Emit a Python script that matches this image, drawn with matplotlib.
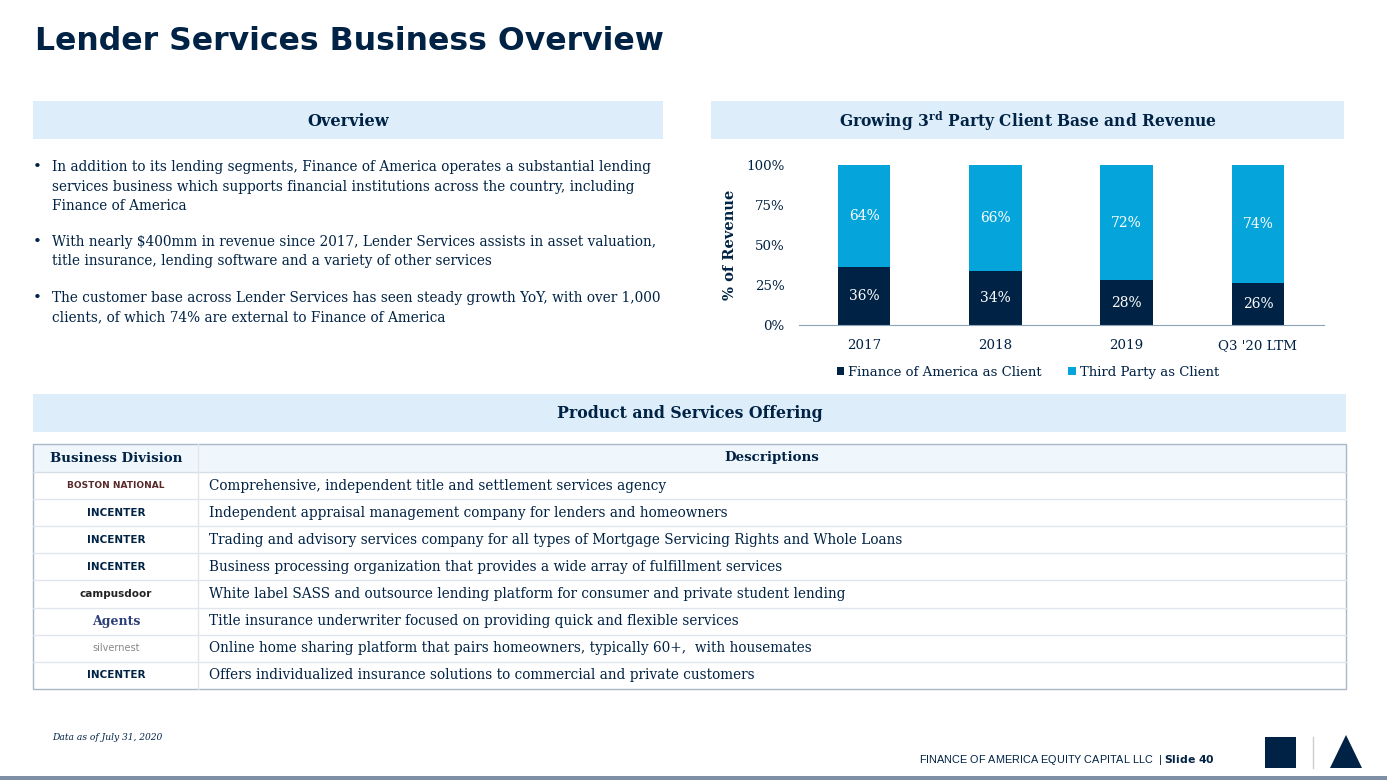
import matplotlib
matplotlib.use("Agg")
import matplotlib.pyplot as plt
import matplotlib.patches as patches
import numpy as np

# data
years = ["2017", "2018", "2019", "Q3 '20 LTM"]
foa_client = [36, 34, 28, 26]
third_party = [64, 66, 72, 74]
series_names = ["Finance of America as Client", "Third Party as Client"]
y_ticks = [0, 25, 50, 75, 100]

bullets = [
    ["In addition to its lending segments, Finance of America operates a substantial lending",
     "services business which supports financial institutions across the country, including",
     "Finance of America"],
    ["With nearly $400mm in revenue since 2017, Lender Services assists in asset valuation,",
     "title insurance, lending software and a variety of other services"],
    ["The customer base across Lender Services has seen steady growth YoY, with over 1,000",
     "clients, of which 74% are external to Finance of America"],
]
divisions = ["BOSTON NATIONAL", "INCENTER", "INCENTER", "INCENTER", "campusdoor",
             "Agents", "silvernest", "INCENTER"]
descriptions = [
    "Comprehensive, independent title and settlement services agency",
    "Independent appraisal management company for lenders and homeowners",
    "Trading and advisory services company for all types of Mortgage Servicing Rights and Whole Loans",
    "Business processing organization that provides a wide array of fulfillment services",
    "White label SASS and outsource lending platform for consumer and private student lending",
    "Title insurance underwriter focused on providing quick and flexible services",
    "Online home sharing platform that pairs homeowners, typically 60+,  with housemates",
    "Offers individualized insurance solutions to commercial and private customers",
]

navy = "#002244"
blue = "#05a5dc"
pale = "#ddeefa"
serif = "DejaVu Serif"

W, H = 1387, 780
fig = plt.figure(figsize=(W / 100, H / 100), dpi=100)

def fx(x):
    return x / W

def fy(y):
    return 1 - y / H

def box(x0, y0, x1, y1, fc, ec="none", lw=0):
    fig.add_artist(patches.Rectangle((fx(x0), fy(y1)), (x1 - x0) / W, (y1 - y0) / H,
                                     transform=fig.transFigure, facecolor=fc,
                                     edgecolor=ec, linewidth=lw))

def hline(x0, x1, y, color, lw=1):
    fig.add_artist(plt.Line2D([fx(x0), fx(x1)], [fy(y), fy(y)], transform=fig.transFigure,
                              color=color, linewidth=lw))

# title
fig.text(fx(35), fy(42), "Lender Services Business Overview", fontsize=22.7, fontweight="bold",
         color=navy, family="DejaVu Sans", va="center", ha="left")

# section headers
box(33, 101, 663, 139, pale)
fig.text(fx(348), fy(121), "Overview", fontsize=11.6, fontweight="bold", color=navy,
         family=serif, ha="center", va="center")
box(711, 101, 1344, 139, pale)
fig.text(fx(1028), fy(121), "Growing 3$^{\\mathregular{rd}}$ Party Client Base and Revenue", fontsize=11.2,
         fontweight="bold", color=navy, family=serif, ha="center", va="center")
box(33, 394, 1346, 432, pale)
fig.text(fx(690), fy(413), "Product and Services Offering", fontsize=11.3, fontweight="bold",
         color=navy, family=serif, ha="center", va="center")

# bullets
starts = [167, 242, 298]
for lines, y0 in zip(bullets, starts):
    fig.text(fx(33), fy(y0), "\u2022", fontsize=11, color=navy, family=serif, va="center")
    for i, ln in enumerate(lines):
        fig.text(fx(52), fy(y0 + i * 19.5), ln, fontsize=9.85, color=navy, family=serif,
                 va="center")

# chart
ax = fig.add_axes([fx(798.5), fy(325), 525 / W, 160 / H])
x = np.arange(len(years))
ax.bar(x, foa_client, width=0.4, color=navy, label=series_names[0])
ax.bar(x, third_party, width=0.4, bottom=foa_client, color=blue, label=series_names[1])
for i in range(len(years)):
    ax.text(x[i], foa_client[i] / 2, f"{foa_client[i]}%", color="white", ha="center",
            va="center", fontsize=10, family=serif)
    ax.text(x[i], foa_client[i] + third_party[i] / 2, f"{third_party[i]}%", color="white",
            ha="center", va="center", fontsize=10, family=serif)
ax.set_xlim(-0.5, 3.5)
ax.set_ylim(0, 100)
ax.set_yticks(y_ticks)
ax.set_yticklabels([f"{t}%" for t in y_ticks], family=serif, fontsize=9.6, color=navy)
ax.set_xticks(x)
ax.set_xticklabels(years, family=serif, fontsize=9.6, color=navy)
ax.tick_params(length=0, pad=10)
ax.tick_params(axis="x", pad=10)
for s in ["top", "right", "left"]:
    ax.spines[s].set_visible(False)
ax.spines["bottom"].set_color("#8fa3b8")
ax.set_ylabel("% of Revenue", family=serif, fontsize=10.5, fontweight="bold", color=navy,
              labelpad=7)
ax.legend(loc="center", bbox_to_anchor=(fx(1028), fy(372)), bbox_transform=fig.transFigure,
          ncol=2, frameon=False, prop={"family": serif, "size": 9.5}, handlelength=0.55,
          handleheight=0.55, handletextpad=0.3, columnspacing=2.0, labelcolor=navy)

# table
top, head_h, row_h = 444, 28, 27.1
bottom = top + head_h + row_h * len(descriptions)
box(33, top, 1346, top + head_h, "#f0f7fc")
hline(33, 1346, top + head_h, "#d5dde6")
for i in range(1, len(descriptions)):
    hline(33, 1346, top + head_h + i * row_h, "#e1e6ec")
fig.add_artist(plt.Line2D([fx(198), fx(198)], [fy(top), fy(bottom)], transform=fig.transFigure,
                          color="#e1e6ec", linewidth=1))
box(33, top, 1346, bottom, "none", ec="#a9b7c6", lw=1)
fig.text(fx(116), fy(top + head_h / 2), "Business Division", fontsize=9.6, fontweight="bold",
         color=navy, family=serif, ha="center", va="center")
fig.text(fx(772), fy(top + head_h / 2), "Descriptions", fontsize=9.6, fontweight="bold",
         color=navy, family=serif, ha="center", va="center")
logo_style = {
    "BOSTON NATIONAL": dict(color="#5a2a2a", fontsize=6.5, fontweight="bold", family="DejaVu Sans"),
    "INCENTER": dict(color=navy, fontsize=7.5, fontweight="bold", family="DejaVu Sans"),
    "campusdoor": dict(color="#222222", fontsize=7.5, fontweight="bold", family="DejaVu Sans"),
    "Agents": dict(color="#2c3e7a", fontsize=9, fontweight="bold", family=serif),
    "silvernest": dict(color="#888888", fontsize=7, family="DejaVu Sans"),
}
for i, (d, desc) in enumerate(zip(divisions, descriptions)):
    yc = top + head_h + (i + 0.5) * row_h
    fig.text(fx(116), fy(yc), d, ha="center", va="center", **logo_style[d])
    fig.text(fx(209), fy(yc), desc, fontsize=9.85, color=navy, family=serif, va="center")

# footer
fig.text(fx(52), fy(738), "Data as of July 31, 2020", fontsize=6.6, style="italic",
         color=navy, family=serif, va="center")
fig.text(fx(1215), fy(760), "FINANCE OF AMERICA EQUITY CAPITAL LLC  | $\\bf{Slide\\ 40}$",
         fontsize=7.8, color=navy, family="Liberation Sans", ha="right", va="center")
box(1265, 737, 1296, 768, navy)
fig.add_artist(plt.Line2D([fx(1313), fx(1313)], [fy(737), fy(768)], transform=fig.transFigure,
                          color="#cccccc", linewidth=1))
fig.add_artist(patches.Polygon([[fx(1346), fy(735)], [fx(1330), fy(768)], [fx(1362), fy(768)]],
                               closed=True, transform=fig.transFigure, facecolor=navy))
box(0, 776, W, 780, "#7d8ea5")

fig.savefig("out.png", dpi=100)
